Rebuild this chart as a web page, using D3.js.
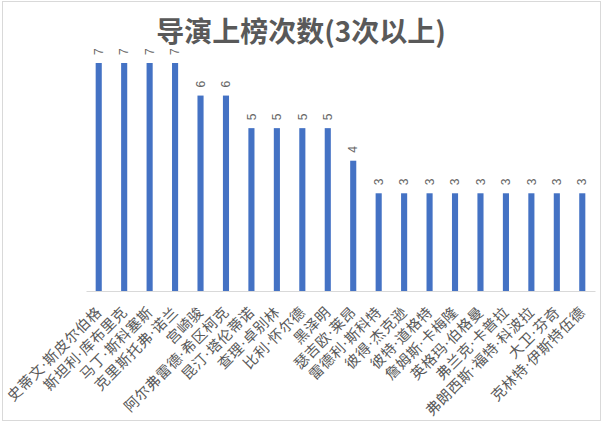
<!DOCTYPE html>
<html>
<head>
<meta charset="utf-8">
<script src="https://cdn.jsdelivr.net/npm/d3@7"></script>
<style>
  body { margin: 0; background: #fff; }
  text { font-family: "Noto Sans CJK SC", "Noto Sans", sans-serif; }
</style>
</head>
<body>
<svg id="chart" width="603" height="423"></svg>
<script>
// directors with 3 or more entries
const directors = [
  "史蒂文·斯皮尔伯格", "斯坦利·库布里克", "马丁·斯科塞斯", "克里斯托弗·诺兰",
  "宫崎骏", "阿尔弗雷德·希区柯克", "昆汀·塔伦蒂诺", "查理·卓别林",
  "比利·怀尔德", "黑泽明", "瑟吉欧·莱昂", "雷德利·斯科特",
  "彼得·杰克逊", "彼特·道格特", "詹姆斯·卡梅隆", "英格玛·伯格曼",
  "弗兰克·卡普拉", "弗朗西斯·福特·科波拉", "大卫·芬奇", "克林特·伊斯特伍德"
];
const counts = [7, 7, 7, 7, 6, 6, 5, 5, 5, 5, 4, 3, 3, 3, 3, 3, 3, 3, 3, 3];
const title = "导演上榜次数(3次以上)";

const svg = d3.select("#chart");
const W = 603, H = 423;
const plot = { left: 86, right: 595, top: 63, bottom: 291 };

// outer frame
svg.append("rect")
    .attr("x", 2.5).attr("y", 1.5)
    .attr("width", W - 5).attr("height", H - 4)
    .attr("fill", "#fff")
    .attr("stroke", "#d9d9d9");

const x = d3.scaleBand()
    .domain(directors)
    .range([plot.left, plot.right])
    .paddingInner(0.76)
    .paddingOuter(0.38);

const y = d3.scaleLinear()
    .domain([0, 7])
    .range([plot.bottom, plot.top]);

// title
svg.append("text")
    .attr("x", 301).attr("y", 42)
    .attr("text-anchor", "middle")
    .attr("font-size", 28)
    .attr("font-weight", "bold")
    .attr("fill", "#595959")
    .text(title);

// bars
svg.selectAll("rect.bar")
    .data(counts)
    .join("rect")
    .attr("class", "bar")
    .attr("x", (d, i) => x(directors[i]))
    .attr("y", d => y(d))
    .attr("width", x.bandwidth())
    .attr("height", d => y(0) - y(d))
    .attr("fill", "#4472c4");

// value labels, rotated
svg.selectAll("text.val")
    .data(counts)
    .join("text")
    .attr("class", "val")
    .attr("transform", (d, i) =>
        `translate(${x(directors[i]) + x.bandwidth() / 2},${y(d) - 8}) rotate(-90)`)
    .attr("dy", "0.35em")
    .attr("font-size", 12)
    .attr("fill", "#666")
    .style("font-family", "'Liberation Sans', sans-serif")
    .text(d => d);

// x axis
const xAxis = svg.append("g")
    .attr("transform", `translate(0,${plot.bottom})`)
    .call(d3.axisBottom(x).tickSize(0).tickSizeOuter(0));
xAxis.select(".domain").attr("stroke", "#d9d9d9");
xAxis.selectAll("text")
    .attr("font-size", 14.5)
    .attr("fill", "#595959")
    .attr("text-anchor", "end")
    .attr("dy", null)
    .attr("y", 0)
    .style("font-family", "'DejaVu Sans', 'Noto Sans CJK SC', sans-serif")
    .style("letter-spacing", "0.6px")
    .attr("transform", "translate(4,22) rotate(-45)");
</script>
</body>
</html>
